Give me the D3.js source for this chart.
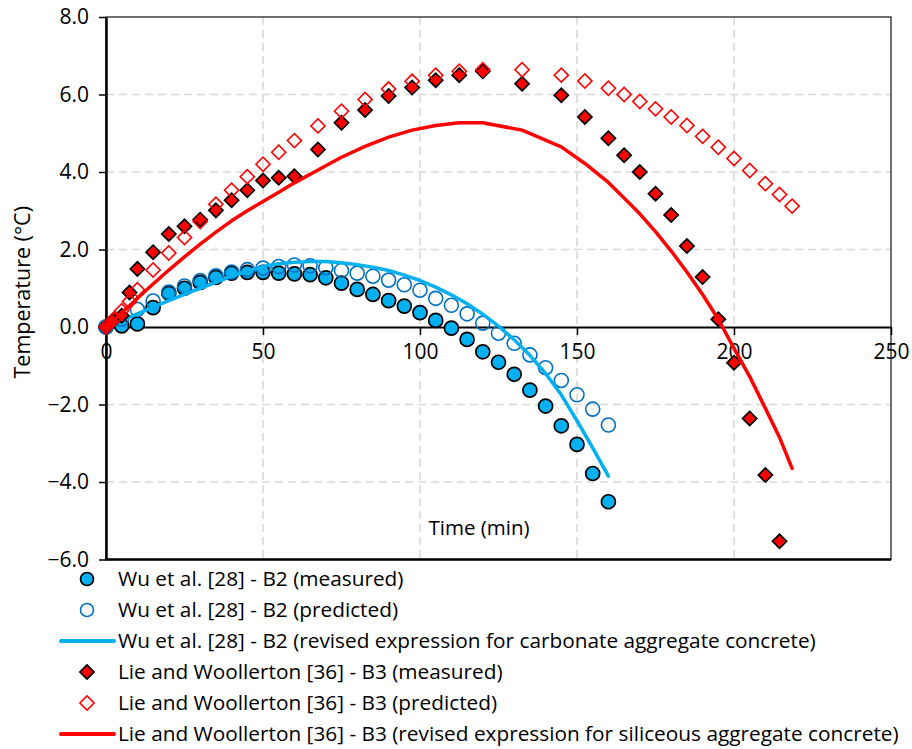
<!DOCTYPE html>
<html>
<head>
<meta charset="utf-8">
<script src="https://cdn.jsdelivr.net/npm/d3@7"></script>
<style>
  html, body { margin: 0; padding: 0; background: #fff; }
  svg { display: block; font-family: "Open Sans", Lato, "Liberation Sans", sans-serif; }
</style>
</head>
<body>
<svg id="chart" width="912" height="749"></svg>
<script>
// Wu et al. [28] - beam B2, sampled every 5 minutes
const wuTime = [0,5,10,15,20,25,30,35,40,45,50,55,60,65,70,75,80,85,90,95,100,105,110,115,120,125,130,135,140,145,150,155,160];
const wuMeasured = [0,0.03,0.08,0.5,0.87,1.0,1.15,1.28,1.39,1.41,1.41,1.39,1.37,1.35,1.27,1.13,0.97,0.84,0.68,0.54,0.37,0.17,-0.03,-0.32,-0.64,-0.91,-1.22,-1.63,-2.04,-2.55,-3.03,-3.78,-4.51];
const wuPredicted = [0,0.2,0.45,0.67,0.9,1.06,1.2,1.32,1.42,1.48,1.52,1.56,1.6,1.58,1.53,1.46,1.39,1.31,1.21,1.09,0.95,0.74,0.56,0.34,0.1,-0.16,-0.42,-0.72,-1.05,-1.38,-1.75,-2.12,-2.53];
const wuRevised = [0,0.17,0.34,0.51,0.68,0.84,1.0,1.15,1.31,1.45,1.56,1.63,1.67,1.69,1.69,1.66,1.61,1.54,1.46,1.34,1.2,1.03,0.83,0.6,0.33,0.02,-0.33,-0.73,-1.2,-1.75,-2.42,-3.12,-3.85];

// Lie and Woollerton [36] - beam B3
const lieTime = [0,2.5,5,7.5,10,15,20,25,30,35,40,45,50,55,60,67.5,75,82.5,90,97.5,105,112.5,120,132.5,145,152.5,160,165,170,175,180,185,190,195,200,205,210,214.5,218.5];
const lieMeasured = [0,0.19,0.29,0.89,1.5,1.93,2.4,2.6,2.77,3.01,3.27,3.53,3.78,3.85,3.89,4.58,5.27,5.6,5.96,6.18,6.37,6.5,6.6,6.28,5.98,5.42,4.87,4.43,4.0,3.44,2.89,2.09,1.29,0.2,-0.92,-2.36,-3.82,-5.53,null];
const liePredicted = [0,0.2,0.42,0.66,0.96,1.47,1.91,2.31,2.72,3.17,3.53,3.88,4.2,4.51,4.81,5.19,5.57,5.87,6.14,6.34,6.5,6.6,6.64,6.64,6.5,6.35,6.16,6.0,5.82,5.63,5.42,5.2,4.92,4.64,4.35,4.04,3.7,3.42,3.12];
const lieRevised = [0,0.18,0.37,0.55,0.74,1.11,1.47,1.81,2.14,2.45,2.74,3.0,3.24,3.48,3.72,4.05,4.38,4.66,4.9,5.08,5.2,5.27,5.27,5.08,4.65,4.22,3.73,3.33,2.92,2.46,1.96,1.42,0.84,0.2,-0.55,-1.28,-2.1,-2.85,-3.65];

// Axis ticks
const xTicks = [0,50,100,150,200,250];
const yTicks = [-6,-4,-2,0,2,4,6,8];

const seriesLabels = [
  "Wu et al. [28] - B2 (measured)",
  "Wu et al. [28] - B2 (predicted)",
  "Wu et al. [28] - B2 (revised expression for carbonate aggregate concrete)",
  "Lie and Woollerton [36] - B3 (measured)",
  "Lie and Woollerton [36] - B3 (predicted)",
  "Lie and Woollerton [36] - B3 (revised expression for siliceous aggregate concrete)"
];

const BLUE = "#00B0F0", DARKBLUE = "#0070C0", RED = "#FF0000";
const FONT = "'Open Sans', Lato, sans-serif";

const svg = d3.select("#chart");
const plot = { left: 106, right: 891, top: 17, bottom: 559.5 };

const x = d3.scaleLinear().domain([0, 250]).range([plot.left, plot.right]);
const y = d3.scaleLinear().domain([-6, 8]).range([plot.bottom, plot.top]);

// Gridlines
const grid = svg.append("g").attr("stroke", "#D9D9D9").attr("stroke-width", 1.6).attr("stroke-dasharray", "8,5");
grid.selectAll("line.v").data(xTicks.filter(d => d > 0 && d < 250)).join("line")
  .attr("x1", d => x(d)).attr("x2", d => x(d)).attr("y1", plot.top).attr("y2", plot.bottom);
grid.selectAll("line.h").data(yTicks.filter(d => d !== 0 && d > -6 && d < 8)).join("line")
  .attr("x1", plot.left).attr("x2", plot.right).attr("y1", d => y(d)).attr("y2", d => y(d));

// Plot frame
svg.append("rect").attr("x", plot.left).attr("y", plot.top)
  .attr("width", plot.right - plot.left).attr("height", plot.bottom - plot.top)
  .attr("fill", "none").attr("stroke", "#222").attr("stroke-width", 1.3);
svg.append("line").attr("x1", plot.left - 1).attr("x2", plot.right).attr("y1", plot.bottom).attr("y2", plot.bottom)
  .attr("stroke", "#000").attr("stroke-width", 2.5);

// Y axis
const yAxis = svg.append("g").attr("transform", `translate(${plot.left},0)`)
  .call(d3.axisLeft(y).tickValues(yTicks).tickFormat(d3.format(".1f")).tickSize(7).tickSizeOuter(0));
yAxis.select(".domain").attr("stroke", "#000").attr("stroke-width", 2.5);
yAxis.selectAll(".tick line").attr("stroke", "#000").attr("stroke-width", 1.5);
yAxis.selectAll(".tick text").attr("font-size", 21).attr("fill", "#000").attr("x", -17).attr("font-family", FONT);

// X axis crossing at zero
const xAxis = svg.append("g").attr("transform", `translate(0,${y(0)})`)
  .call(d3.axisBottom(x).tickValues(xTicks).tickSize(8).tickSizeOuter(0).tickFormat(d3.format("d")));
xAxis.select(".domain").attr("stroke", "#000").attr("stroke-width", 1.8);
xAxis.selectAll(".tick line").attr("stroke", "#000").attr("stroke-width", 1.5);
xAxis.selectAll(".tick text").attr("font-size", 21).attr("fill", "#000").attr("y", 17).attr("font-family", FONT);

// Axis titles
svg.append("text").attr("x", 479).attr("y", 535).attr("text-anchor", "middle")
  .attr("font-size", 20.5).attr("fill", "#000").text("Time (min)");
svg.append("text").attr("transform", `translate(30,${(plot.top + plot.bottom) / 2 + 4}) rotate(-90)`)
  .attr("text-anchor", "middle").attr("font-size", 21.5).attr("fill", "#000").text("Temperature (°C)");

// Series
const toPts = (xs, ys) => xs.map((t, i) => ({ t, v: ys[i] })).filter(d => d.v != null);
const line = d3.line().x(d => x(d.t)).y(d => y(d.v));
const diamond = d3.symbol(d3.symbolSquare, 100);

const layer = svg.append("g");

// Wu measured
layer.append("g").selectAll("circle").data(toPts(wuTime, wuMeasured)).join("circle")
  .attr("cx", d => x(d.t)).attr("cy", d => y(d.v)).attr("r", 7)
  .attr("fill", BLUE).attr("stroke", "#000").attr("stroke-width", 1.7);
// Wu predicted
layer.append("g").selectAll("circle").data(toPts(wuTime, wuPredicted)).join("circle")
  .attr("cx", d => x(d.t)).attr("cy", d => y(d.v)).attr("r", 7)
  .attr("fill", "none").attr("stroke", DARKBLUE).attr("stroke-width", 1.6);
// Wu revised
layer.append("path").datum(toPts(wuTime, wuRevised)).attr("d", line)
  .attr("fill", "none").attr("stroke", BLUE).attr("stroke-width", 3.5).attr("stroke-linejoin", "round").attr("stroke-linecap", "round");
// Lie measured
layer.append("g").selectAll("path").data(toPts(lieTime, lieMeasured)).join("path")
  .attr("d", diamond).attr("transform", d => `translate(${x(d.t)},${y(d.v)}) rotate(45)`)
  .attr("fill", RED).attr("stroke", "#000").attr("stroke-width", 1.7);
// Lie predicted
layer.append("g").selectAll("path").data(toPts(lieTime, liePredicted)).join("path")
  .attr("d", diamond).attr("transform", d => `translate(${x(d.t)},${y(d.v)}) rotate(45)`)
  .attr("fill", "none").attr("stroke", RED).attr("stroke-width", 1.6);
// Lie revised
layer.append("path").datum(toPts(lieTime, lieRevised)).attr("d", line)
  .attr("fill", "none").attr("stroke", RED).attr("stroke-width", 3.5).attr("stroke-linejoin", "round").attr("stroke-linecap", "round");

// Legend
const legend = svg.append("g");
const rowY = i => 579 + i * 31;
const keyX = 87;
legend.append("circle").attr("cx", keyX).attr("cy", rowY(0)).attr("r", 6.5)
  .attr("fill", BLUE).attr("stroke", "#000").attr("stroke-width", 1.7);
legend.append("circle").attr("cx", keyX).attr("cy", rowY(1)).attr("r", 6.5)
  .attr("fill", "none").attr("stroke", DARKBLUE).attr("stroke-width", 1.6);
legend.append("line").attr("x1", 61).attr("x2", 114).attr("y1", rowY(2)).attr("y2", rowY(2))
  .attr("stroke", BLUE).attr("stroke-width", 4).attr("stroke-linecap", "round");
legend.append("path").attr("d", diamond).attr("transform", `translate(${keyX},${rowY(3)}) rotate(45)`)
  .attr("fill", RED).attr("stroke", "#000").attr("stroke-width", 1.7);
legend.append("path").attr("d", diamond).attr("transform", `translate(${keyX},${rowY(4)}) rotate(45)`)
  .attr("fill", "none").attr("stroke", RED).attr("stroke-width", 1.6);
legend.append("line").attr("x1", 61).attr("x2", 114).attr("y1", rowY(5)).attr("y2", rowY(5))
  .attr("stroke", RED).attr("stroke-width", 4).attr("stroke-linecap", "round");
legend.selectAll("text").data(seriesLabels).join("text")
  .attr("x", 118).attr("y", (d, i) => rowY(i)).attr("dy", "0.35em")
  .attr("font-size", 20.8).attr("fill", "#000").text(d => d);
</script>
</body>
</html>
